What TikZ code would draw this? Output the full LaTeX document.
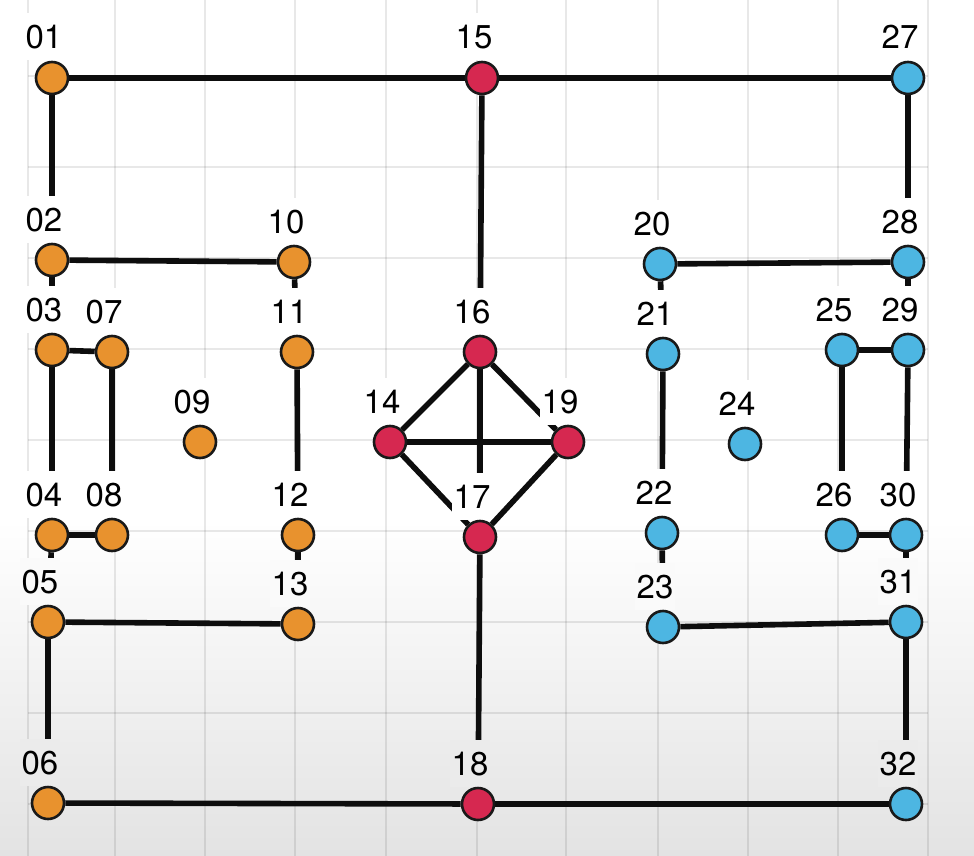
\documentclass[tikz,border=0pt]{standalone}
\usepackage{fontspec}
\setmainfont{TeX Gyre Heros}
\pgfdeclarelayer{background}
\pgfdeclarelayer{edges}
\pgfdeclarelayer{labels}
\pgfsetlayers{background,edges,labels,main}
\definecolor{ora}{HTML}{E8922E}
\definecolor{red}{HTML}{D62850}
\definecolor{blu}{HTML}{4DB6E2}
\tikzset{
  vtx/.style={circle, minimum size=32pt, inner sep=0pt, draw=black!90, line width=2.6pt},
  lab/.style={inner xsep=2pt, inner ysep=11.5pt, text height=24pt, text depth=0pt, font=\fontsize{33}{39}\selectfont},
  edge/.style={line width=5.6pt, black!95},
  gridline/.style={line width=2pt, black, opacity=0.09}
}
\newcommand\vtx[5]{%
  \node[vtx, fill=#2] (n#1) at (#3,#4) {};
  \begin{pgfonlayer}{labels}
    \node[lab, fill=#5] (l#1) at (#3-8,#4-41) {#1};
  \end{pgfonlayer}
}
\begin{document}
\begin{tikzpicture}[x=1pt, y=-1pt]
\useasboundingbox (0,0) rectangle (974,856);
\begin{pgfonlayer}{background}
  \fill[white] (0,0) rectangle (974,856);
  \shade[top color=white, bottom color=black!11] (0,520) rectangle (974,856);
  \foreach \x in {28,115,205,295,386,477,566,658,748,838,928}
    \draw[gridline] (\x,0) -- (\x,856);
  \foreach \y in {76,167,258,349,440,531,622,713,804}
    \draw[gridline] (28,\y) -- (928,\y);
\end{pgfonlayer}

% orange
\vtx{01}{ora}{52}{78}{white}
\vtx{02}{ora}{52}{260}{white}
\vtx{03}{ora}{52}{350}{white}
\vtx{04}{ora}{52}{535}{white}
\vtx{05}{ora}{48}{622}{black!2}
\vtx{06}{ora}{48}{803}{black!8}
\vtx{07}{ora}{112}{352}{white}
\vtx{08}{ora}{112}{535}{white}
\vtx{09}{ora}{200}{442}{white}
\vtx{10}{ora}{294}{262}{white}
\vtx{11}{ora}{297}{352}{white}
\vtx{12}{ora}{298}{535}{white}
\vtx{13}{ora}{298}{624}{black!2}
% red
\vtx{14}{red}{390}{442}{white}
\vtx{15}{red}{482}{78}{white}
\vtx{16}{red}{480}{352}{white}
\vtx{17}{red}{480}{537}{white}
\vtx{18}{red}{478}{804}{black!8}
\vtx{19}{red}{568}{442}{white}
% blue
\vtx{20}{blu}{660}{264}{white}
\vtx{21}{blu}{663}{354}{white}
\vtx{22}{blu}{662}{533}{white}
\vtx{23}{blu}{663}{627}{black!2}
\vtx{24}{blu}{745}{444}{white}
\vtx{25}{blu}{842}{350}{white}
\vtx{26}{blu}{842}{535}{white}
\vtx{27}{blu}{908}{78}{white}
\vtx{28}{blu}{908}{262}{white}
\vtx{29}{blu}{908}{350}{white}
\vtx{30}{blu}{906}{535}{white}
\vtx{31}{blu}{906}{622}{black!2}
\vtx{32}{blu}{906}{804}{black!8}

\begin{pgfonlayer}{edges}
  \foreach \a/\b in {01/15,15/27,01/02,27/28,15/16,02/10,20/28,02/03,10/11,20/21,28/29,
    03/07,03/04,07/08,04/08,11/12,21/22,25/29,25/26,29/30,26/30,
    16/14,16/19,16/17,14/19,14/17,19/17,
    04/05,12/13,22/23,30/31,05/13,05/06,17/18,23/31,31/32,06/18,18/32}
    \draw[edge] (n\a) -- (n\b);
\end{pgfonlayer}
\end{tikzpicture}
\end{document}
